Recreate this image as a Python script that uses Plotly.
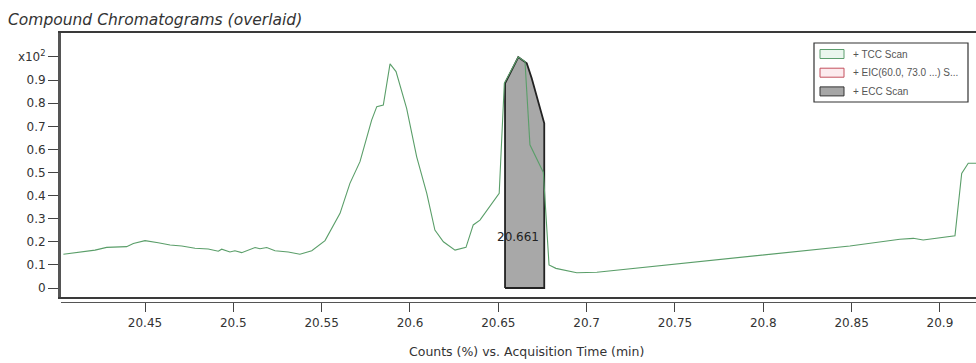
import plotly.graph_objects as go

# ---- data ----
tcc_time = [20.4038, 20.4104, 20.4217, 20.4283, 20.4349, 20.4396, 20.4434, 20.4500,
            20.4575, 20.4642, 20.4708, 20.4783, 20.4858, 20.4915, 20.4934, 20.4981,
            20.5009, 20.5047, 20.5123, 20.5151, 20.5189, 20.5236, 20.5311, 20.5377,
            20.5444, 20.5519, 20.5604, 20.5660, 20.5717, 20.5783, 20.5812, 20.5849,
            20.5887, 20.5921, 20.5981, 20.6038, 20.6095, 20.6141, 20.6189, 20.6255,
            20.6317, 20.6358, 20.6396, 20.6453, 20.6505, 20.6534, 20.6613, 20.6651,
            20.6679, 20.6755, 20.6787, 20.6826, 20.6868, 20.6944, 20.7058, 20.7641,
            20.8208, 20.8490, 20.8773, 20.8849, 20.8905, 20.9085, 20.9123, 20.9160,
            20.9204]
tcc_value = [0.146, 0.153, 0.164, 0.176, 0.176, 0.179, 0.193, 0.205,
             0.196, 0.186, 0.182, 0.172, 0.169, 0.159, 0.168, 0.156,
             0.161, 0.153, 0.175, 0.170, 0.175, 0.161, 0.156, 0.146,
             0.161, 0.205, 0.323, 0.453, 0.547, 0.727, 0.785, 0.792,
             0.970, 0.937, 0.778, 0.568, 0.410, 0.251, 0.200, 0.164,
             0.176, 0.273, 0.294, 0.352, 0.410, 0.886, 1.000, 0.980,
             0.620, 0.500, 0.100, 0.085, 0.078, 0.066, 0.068, 0.114,
             0.157, 0.182, 0.211, 0.215, 0.208, 0.226, 0.496, 0.540,
             0.540]

ecc_time = [20.6538, 20.6613, 20.6661, 20.6689, 20.6760]
ecc_value = [0.886, 1.000, 0.973, 0.908, 0.713]

peak_label = "20.661"
peak_time = 20.661

x_ticks = [20.45, 20.5, 20.55, 20.6, 20.65, 20.7, 20.75, 20.8, 20.85, 20.9]
x_tick_text = ["20.45", "20.5", "20.55", "20.6", "20.65", "20.7", "20.75", "20.8", "20.85", "20.9"]
y_ticks = [0, 0.1, 0.2, 0.3, 0.4, 0.5, 0.6, 0.7, 0.8, 0.9, 1.0]
y_tick_text = ["0", "0.1", "0.2", "0.3", "0.4", "0.5", "0.6", "0.7", "0.8", "0.9", "x10<sup>2</sup>"]

legend_names = ["+ TCC Scan", "+ EIC(60.0, 73.0 ...) S...", "+ ECC Scan"]
legend_fill = ["#eaf6ee", "#fcebee", "#a6a6a6"]
legend_edge = ["#5c9e6e", "#c4505e", "#333333"]

# ---- layout geometry (pixels) ----
W, H = 976, 363
L, R, T, B = 61, 0, 32, 61
PW, PH = W - L - R, H - T - B


def px(xp):
    return (xp - L) / PW


def py(yp):
    return (H - B - yp) / PH


FONT = "DejaVu Sans"

fig = go.Figure()

# ECC scan: filled block from baseline
fig.add_trace(go.Scatter(
    x=[ecc_time[0]] + ecc_time + [ecc_time[-1], ecc_time[0]],
    y=[0] + ecc_value + [0, 0],
    mode="lines", fill="toself", fillcolor="#a8a8a8",
    line=dict(color="#222222", width=1.8), showlegend=False, hoverinfo="skip",
))

# TCC scan line
fig.add_trace(go.Scatter(
    x=tcc_time, y=tcc_value, mode="lines",
    line=dict(color="#5a9e69", width=1.1), showlegend=False,
))

shapes = []
# frame top / bottom (plot box)
shapes.append(dict(type="line", xref="paper", yref="paper", x0=px(58), x1=1, y0=py(32), y1=py(32),
                   line=dict(color="#3a3a3a", width=2)))
shapes.append(dict(type="line", xref="paper", yref="paper", x0=px(58), x1=1, y0=py(298), y1=py(298),
                   line=dict(color="#3a3a3a", width=2.2)))

# legend box
shapes.append(dict(type="rect", xref="paper", yref="paper", x0=px(814), x1=px(968), y0=py(43), y1=py(102),
                   line=dict(color="#333333", width=1.2), fillcolor="white"))
annotations = []
legend_y = [54, 72.7, 91.4]
for name, fc, ec, ly in zip(legend_names, legend_fill, legend_edge, legend_y):
    shapes.append(dict(type="rect", xref="paper", yref="paper", x0=px(820), x1=px(844),
                       y0=py(ly - 4.5), y1=py(ly + 4.5), line=dict(color=ec, width=1), fillcolor=fc))
    annotations.append(dict(x=px(851), y=py(ly), xref="paper", yref="paper", text=name, showarrow=False,
                            xanchor="left", yanchor="middle",
                            font=dict(family="Liberation Sans", size=10, color="#555555")))

# title
annotations.append(dict(x=px(6), y=py(20), xref="paper", yref="paper",
                        text="<i>Compound Chromatograms (overlaid)</i>", showarrow=False,
                        xanchor="left", yanchor="middle", font=dict(family=FONT, size=15.5, color="#333333")))
# x axis title
annotations.append(dict(x=px(526), y=py(351), xref="paper", yref="paper",
                        text="Counts (%) vs. Acquisition Time (min)", showarrow=False,
                        xanchor="center", yanchor="middle", font=dict(family=FONT, size=12.5, color="#333333")))
# peak label
annotations.append(dict(x=peak_time, y=py(237), xref="x", yref="paper", text=peak_label, showarrow=False,
                        xanchor="center", yanchor="middle", font=dict(family=FONT, size=12, color="#222222")))

fig.update_layout(
    width=W, height=H,
    margin=dict(l=L, r=R, t=T, b=B, pad=0),
    paper_bgcolor="white", plot_bgcolor="white",
    showlegend=False,
    shapes=shapes, annotations=annotations,
    xaxis=dict(range=[20.40245, 20.9204], tickvals=x_ticks, ticktext=x_tick_text,
               anchor="free", position=0,
               showgrid=False, zeroline=False, showline=True, linecolor="#555555", linewidth=1.2,
               ticks="outside", ticklen=9, tickwidth=1.2, tickcolor="#444444",
               tickfont=dict(family=FONT, size=12, color="#333333")),
    yaxis=dict(range=[-0.0433, 1.1082], domain=[py(298), 1], tickvals=y_ticks, ticktext=y_tick_text,
               showgrid=False, zeroline=False, showline=True, linecolor="#555555", linewidth=3,
               ticks="outside", ticklen=10, tickwidth=1.2, tickcolor="#444444",
               tickfont=dict(family=FONT, size=12, color="#333333")),
)

fig.write_html("out.html", config={"displayModeBar": False},
               post_script="document.body.style.margin='0px'; document.body.style.overflow='hidden';")
